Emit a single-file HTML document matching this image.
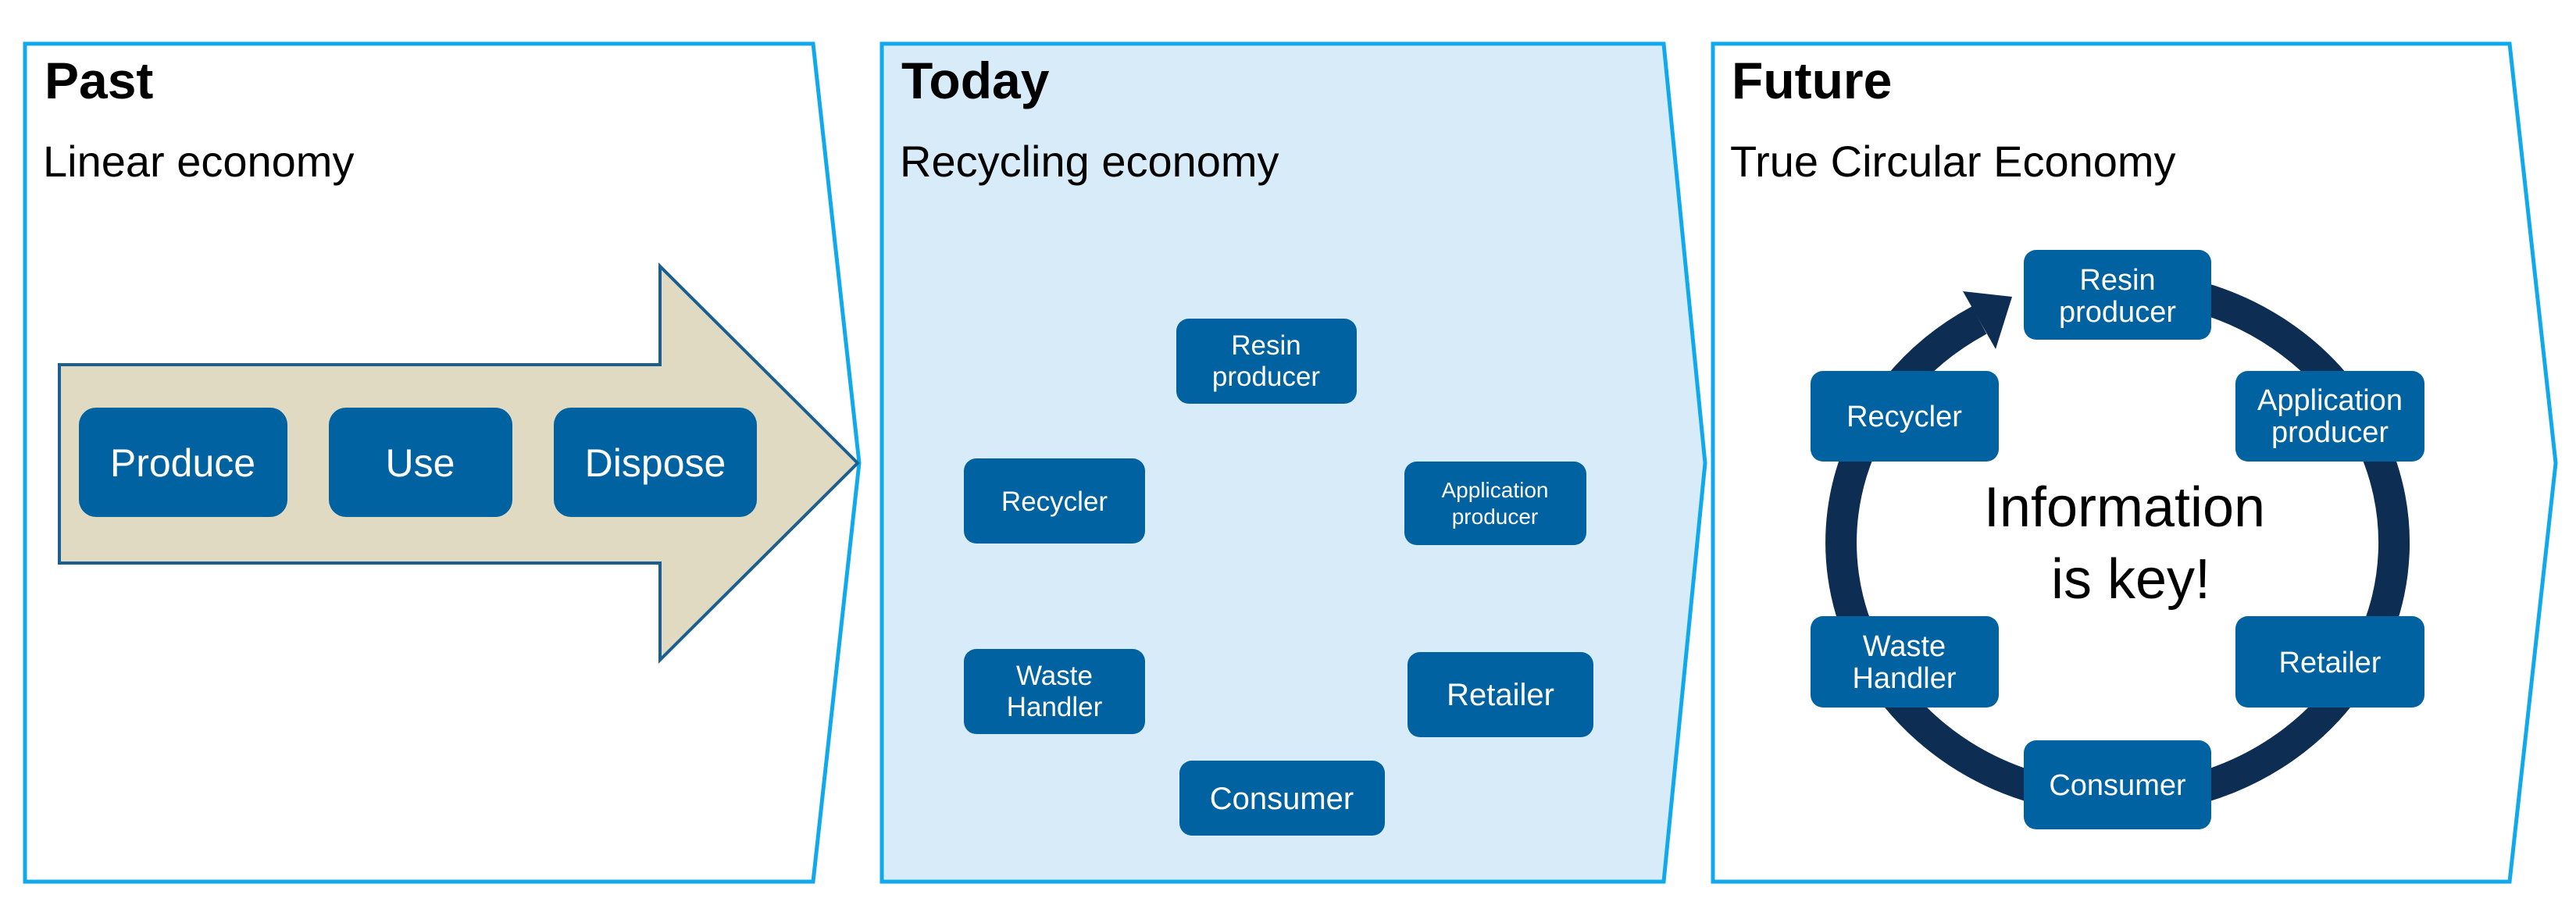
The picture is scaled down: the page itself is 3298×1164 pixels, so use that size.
<!DOCTYPE html>
<html><head><meta charset="utf-8"><style>
html,body{margin:0;padding:0;background:#fff}
svg{display:block}
text{font-family:"Liberation Sans",Arial,sans-serif}
</style></head><body>
<svg width="3298" height="1164" viewBox="0 0 3298 1164" xmlns="http://www.w3.org/2000/svg">
<polygon points="32,56 1041,56 1100,593 1041,1129 32,1129" fill="#fff" stroke="#10a9ec" stroke-width="5"/>
<polygon points="1129,56 2130,56 2183,593 2130,1129 1129,1129" fill="#d7ebf9" stroke="#10a9ec" stroke-width="5"/>
<polygon points="2193,56 3213,56 3272,593 3213,1129 2193,1129" fill="#fff" stroke="#10a9ec" stroke-width="5"/>

<g fill="#000">
<text x="57" y="126" font-size="66" font-weight="bold">Past</text>
<text x="55" y="226" font-size="56">Linear economy</text>
<text x="1154" y="126" font-size="66" font-weight="bold">Today</text>
<text x="1152" y="226" font-size="56">Recycling economy</text>
<text x="2217" y="126" font-size="66" font-weight="bold">Future</text>
<text x="2215" y="226" font-size="56">True Circular Economy</text>
</g>

<polygon points="76,467 845,467 845,341 1098,593 845,845 845,721 76,721" fill="#e0dac2" stroke="#1a5f8f" stroke-width="4"/>
<g fill="#0062a0">
<rect x="101" y="522" width="267" height="140" rx="22"/>
<rect x="421" y="522" width="235" height="140" rx="22"/>
<rect x="709" y="522" width="260" height="140" rx="22"/>
</g>
<g fill="#fff" font-size="50" text-anchor="middle">
<text x="234" y="610">Produce</text>
<text x="538" y="610">Use</text>
<text x="839" y="610">Dispose</text>
</g>

<g fill="#0062a0">
<rect x="1506" y="408" width="231" height="109" rx="16"/>
<rect x="1234" y="587" width="232" height="109" rx="16"/>
<rect x="1798" y="591" width="233" height="107" rx="16"/>
<rect x="1234" y="831" width="232" height="109" rx="16"/>
<rect x="1802" y="835" width="238" height="109" rx="16"/>
<rect x="1510" y="974" width="263" height="96" rx="16"/>
</g>
<g fill="#fff" text-anchor="middle">
<text x="1621" y="454" font-size="35">Resin</text>
<text x="1621" y="494" font-size="35">producer</text>
<text x="1350" y="654" font-size="35">Recycler</text>
<text x="1914" y="637" font-size="28">Application</text>
<text x="1914" y="671" font-size="28">producer</text>
<text x="1350" y="877" font-size="35">Waste</text>
<text x="1350" y="917" font-size="35">Handler</text>
<text x="1921" y="903" font-size="40">Retailer</text>
<text x="1641" y="1036" font-size="40">Consumer</text>
</g>

<path d="M2779,372 A354,329 0 1 1 2534,410" fill="none" stroke="#0d2d52" stroke-width="40"/>
<polygon points="2576,380 2555,447 2513,373" fill="#0d2d52"/>
<g fill="#0062a0">
<rect x="2591" y="320" width="240" height="115" rx="16"/>
<rect x="2318" y="475" width="241" height="116" rx="16"/>
<rect x="2862" y="475" width="242" height="116" rx="16"/>
<rect x="2318" y="789" width="241" height="117" rx="16"/>
<rect x="2862" y="789" width="242" height="117" rx="16"/>
<rect x="2591" y="948" width="240" height="114" rx="16"/>
</g>
<g fill="#fff" text-anchor="middle" font-size="38">
<text x="2711" y="371">Resin</text>
<text x="2711" y="412">producer</text>
<text x="2438" y="546">Recycler</text>
<text x="2983" y="525">Application</text>
<text x="2983" y="566">producer</text>
<text x="2438" y="840">Waste</text>
<text x="2438" y="881">Handler</text>
<text x="2983" y="861">Retailer</text>
<text x="2711" y="1018">Consumer</text>
</g>
<g fill="#000" text-anchor="middle" font-size="72">
<text x="2720" y="674">Information</text>
<text x="2728" y="766">is key!</text>
</g>
</svg>
</body></html>
